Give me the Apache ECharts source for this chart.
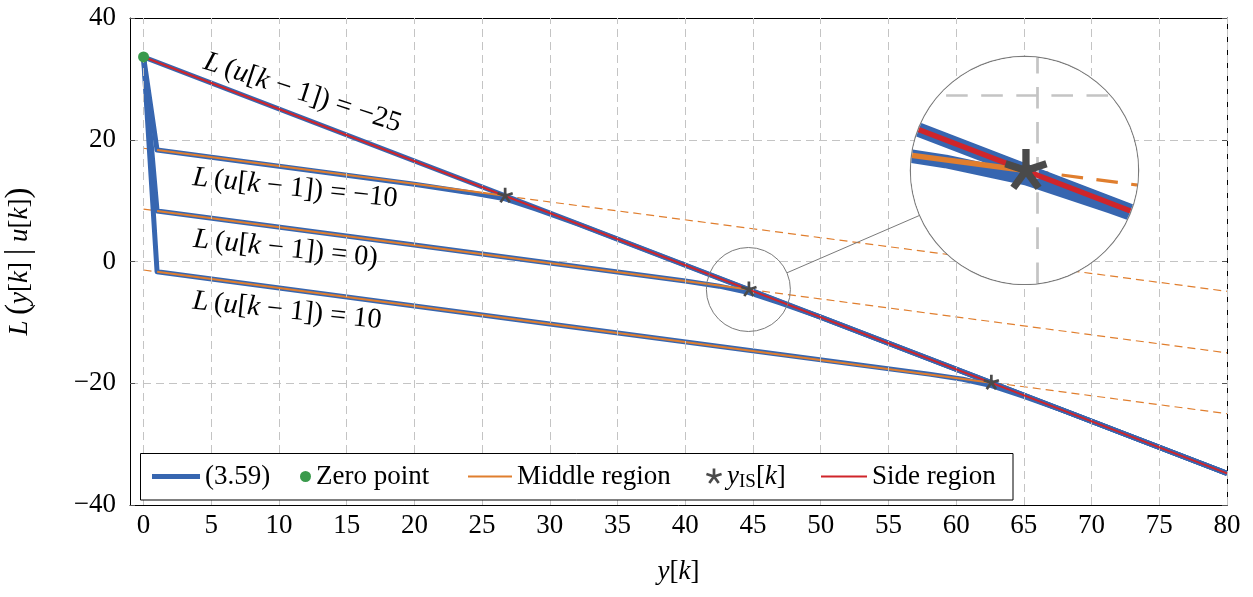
<!DOCTYPE html>
<html>
<head>
<meta charset="utf-8">
<script src="https://cdn.jsdelivr.net/npm/echarts@6/dist/echarts.min.js"></script>
<style>
  html, body { margin: 0; padding: 0; background: #fff; }
  #main { position: absolute; left: 0; top: 0; width: 1253px; height: 597px; }
  #lens { position: absolute; width: 227px; height: 227px; border-radius: 50%;
          overflow: hidden; background: #fff; box-shadow: 0 0 0 1.2px #7a7a7a; z-index: 5; }
</style>
</head>
<body>
<div id="main"></div>
<div id="lens"></div>
<script>
// ---- axis ticks ----
const xTicks = [0, 5, 10, 15, 20, 25, 30, 35, 40, 45, 50, 55, 60, 65, 70, 75, 80];
const yTicks = [-40, -20, 0, 20, 40];

// ---- data ----
const zeroPoint = [[0, 33.6]];
// previous input values, as printed next to each curve
const inputLabels = ['\u221225', '\u221210', '0)', '10'];

// (3.59): one curve per previous input
const curveUm25 = [[0, 33.6], [26.7, 10.8], [44.7, -4.6], [62.6, -19.9], [80, -34.8]];
const curveUm10 = [[0, 33.6], [1, 18.3], [10, 15.65], [20, 12.7], [24, 11.35], [26.7, 10.3], [29, 8.6], [32, 6.2], [80, -34.8]];
const curveU0   = [[0, 33.6], [1, 8.3], [20, 2.7], [40, -3.2], [42.5, -4.05], [44.7, -5.1], [47, -6.8], [50, -9.15], [80, -34.8]];
const curveU10  = [[0, 33.6], [1, -1.7], [30, -10.25], [58, -18.5], [60.5, -19.35], [62.6, -20.4], [65, -22.15], [68, -24.55], [80, -34.8]];

// middle-region linear pieces (solid part) and their continuations (dashed)
const middleUm10 = [[1, 18.3], [26.7, 10.8]];
const middleU0   = [[1, 8.3], [44.7, -4.6]];
const middleU10  = [[1, -1.7], [62.6, -19.9]];
const middleExtUm10 = [[0, 18.6], [80, -4.9]];
const middleExtU0   = [[0, 8.6], [80, -15.0]];
const middleExtU10  = [[0, -1.4], [80, -25.0]];

// side-region line
const sideRegion = [[0, 33.6], [80, -34.8]];

// intersection points y_IS[k]
const intersections = [[26.7, 10.8], [44.7, -4.6], [62.6, -19.9]];

// ---- styling / layout ----
const FONT = '"Liberation Serif", "Times New Roman", serif';
const FS = 27;
const LFS = 28.5;
const BLUE = '#3766b0', ORANGE = '#e07e2e', RED = '#d0252a', GREEN = '#3a9a4c', STAR = '#4a4a4a';
const GRIDC = '#c4c4c4';
const labelPlacement = [ // [x, y] of the baseline start, rotation in degrees
  { at: [4.3, 31.5], rot: 18 },
  { at: [3.56, 12.3], rot: 6 },
  { at: [3.63, 2.19], rot: 6 },
  { at: [3.56, -7.95], rot: 6 }
];
const lens = { centre: [44.66, -4.6], smallR: 42, bigR: 113.5, bigCentre: [1024.5, 170], factor: 2.7 };

const rich = {
  i: { fontFamily: FONT, fontSize: FS, fontStyle: 'italic', color: '#000' },
  n: { fontFamily: FONT, fontSize: FS, color: '#000' },
  p: { fontFamily: FONT, fontSize: 33, color: '#000' },
  s: { fontFamily: FONT, fontSize: 19, color: '#000', padding: [12, 0, 0, 0] }
};
const labelRich = {
  i: { fontFamily: FONT, fontSize: LFS, fontStyle: 'italic', color: '#000' },
  n: { fontFamily: FONT, fontSize: LFS, color: '#000' }
};

function asteriskPath() {
  const R = 10, w = 1.7;
  let d = '';
  for (let i = 0; i < 5; i++) {
    const a = (90 - 72 * i) * Math.PI / 180;
    const dx = Math.cos(a), dy = -Math.sin(a);
    const nx = -dy, ny = dx;
    const pts = [[-w * nx, -w * ny], [R * dx - w * nx, R * dy - w * ny], [R * dx + w * nx, R * dy + w * ny], [w * nx, w * ny]];
    d += 'M' + pts.map(p => p[0].toFixed(3) + ' ' + p[1].toFixed(3)).join('L') + 'Z';
  }
  d += 'M-0.01 10L0.01 10L0 9.99Z'; // keeps the box centred on the hub
  return 'path://' + d;
}
const ASTERISK = asteriskPath();

function buildSeries(k, gridLines) {
  const lineBase = { type: 'line', symbol: 'none', silent: true, animation: false };
  const series = [];
  series.push({
    type: 'line', data: [], silent: true, z: 1, animation: false,
    markLine: {
      silent: true, symbol: ['none', 'none'], label: { show: false }, animation: false,
      lineStyle: { color: GRIDC, width: k, type: [8 * k, 5 * k] },
      data: gridLines
    }
  });
  [middleExtUm10, middleExtU0, middleExtU10].forEach(d => series.push(Object.assign({}, lineBase, {
    name: 'middle continuation', data: d, z: 2,
    lineStyle: { color: ORANGE, width: 1.2 * k, type: [8 * k, 5 * k] }
  })));
  [curveUm25, curveUm10, curveU0, curveU10].forEach(d => series.push(Object.assign({}, lineBase, {
    name: '(3.59)', data: d, z: 3,
    lineStyle: { color: BLUE, width: 5 * k, join: 'round' }, itemStyle: { color: BLUE }
  })));
  [middleUm10, middleU0, middleU10].forEach(d => series.push(Object.assign({}, lineBase, {
    name: 'Middle region', data: d, z: 4,
    lineStyle: { color: ORANGE, width: 2 * k }, itemStyle: { color: ORANGE }
  })));
  series.push(Object.assign({}, lineBase, {
    name: 'Side region', data: sideRegion, z: 5,
    lineStyle: { color: RED, width: 2 * k }, itemStyle: { color: RED }
  }));
  series.push({
    type: 'scatter', name: 'yIS', data: intersections, z: 6, silent: true, animation: false,
    symbol: ASTERISK, symbolKeepAspect: true, symbolSize: 16 * k, itemStyle: { color: STAR, opacity: 1 }
  });
  series.push({
    type: 'scatter', name: 'Zero point', data: zeroPoint, z: 7, silent: true, animation: false,
    symbol: 'circle', symbolSize: 11 * k, itemStyle: { color: GREEN, opacity: 1 }
  });
  return series;
}

const fmtNum = v => (v < 0 ? '\u2212' + (-v) : String(v));

function legendAt(item, left, extra) {
  return Object.assign({
    data: [item], left: left, top: 461, orient: 'horizontal', padding: 0, itemGap: 0,
    selectedMode: false, z: 60,
    textStyle: { fontFamily: FONT, fontSize: FS, color: '#000', lineHeight: 31, rich: rich }
  }, extra);
}

const main = echarts.init(document.getElementById('main'), null, { renderer: 'canvas', width: 1253, height: 597 });

const axisCommon = {
  type: 'value',
  axisLine: { show: true, onZero: false, lineStyle: { color: '#000', width: 1 } },
  axisTick: { show: true, inside: true, length: 5, lineStyle: { color: '#555' } }
};

main.setOption({
  animation: false,
  backgroundColor: '#fff',
  grid: { left: 130, right: 26, top: 18, bottom: 92, containLabel: false, outerBoundsMode: 'none' },
  xAxis: [
    Object.assign({}, axisCommon, {
      position: 'bottom', min: -1, max: 80,
      axisTick: Object.assign({}, axisCommon.axisTick, { customValues: xTicks }),
      axisLabel: { customValues: xTicks, fontFamily: FONT, fontSize: FS, color: '#000', margin: 7, formatter: fmtNum },
      splitLine: { show: false },
      name: '{i|y}{n|[}{i|k}{n|]}', nameLocation: 'middle', nameGap: 53,
      nameTextStyle: { rich: rich }
    }),
    Object.assign({}, axisCommon, {
      position: 'top', min: -1, max: 80,
      axisTick: Object.assign({}, axisCommon.axisTick, { customValues: xTicks }),
      axisLabel: { show: false }, splitLine: { show: false }
    })
  ],
  yAxis: [
    Object.assign({}, axisCommon, {
      position: 'left', min: -40, max: 40, interval: 20,
      axisLabel: { fontFamily: FONT, fontSize: FS, color: '#000', margin: 14, formatter: fmtNum },
      splitLine: { show: true, lineStyle: { color: GRIDC, width: 1, type: [8, 5] } },
      name: '{i|L}{n|\u2009}{p|(}{i|y}{n|[}{i|k}{n|] }{p||}{n| }{i|u}{n|[}{i|k}{n|]}{p|)}',
      nameLocation: 'middle', nameRotate: 90, nameGap: 94,
      nameTextStyle: { rich: rich }
    }),
    Object.assign({}, axisCommon, {
      position: 'right', min: -40, max: 40, interval: 20,
      axisLabel: { show: false }, splitLine: { show: false }
    })
  ],
  legend: [
    legendAt({ name: '(3.59)', icon: 'rect' }, 152, { itemWidth: 48, itemHeight: 5 }),
    legendAt({ name: 'Zero point', icon: 'circle' }, 300, { itemWidth: 11, itemHeight: 11 }),
    legendAt({ name: 'Middle region', icon: 'rect' }, 468, { itemWidth: 44, itemHeight: 2 }),
    legendAt({ name: 'yIS' }, 706, { itemWidth: 16, itemHeight: 16, formatter: () => '{i|y}{s|IS}{n|[}{i|k}{n|]}' }),
    legendAt({ name: 'Side region', icon: 'rect' }, 821, { itemWidth: 46, itemHeight: 2 })
  ],
  series: buildSeries(1, xTicks.map(v => ({ xAxis: v })))
});

// ---- annotations: curve labels, legend frame, magnifier marks ----
const toPx = p => main.convertToPixel({ gridIndex: 0 }, p);
const graphics = [];
graphics.push({
  type: 'rect', z: 55, silent: true,
  shape: { x: 140.5, y: 453.5, width: 872.5, height: 46.5 },
  style: { fill: '#fff', stroke: '#000', lineWidth: 1 }
});
labelPlacement.forEach((pl, i) => {
  const p = toPx(pl.at);
  graphics.push({
    type: 'text', z: 20, silent: true, x: p[0], y: p[1], rotation: -pl.rot * Math.PI / 180,
    style: {
      x: 0, y: -9, align: 'left', verticalAlign: 'middle',
      text: '{i|L}{n|\u2009(}{i|u}{n|[}{i|k}{n| \u2212 1]) = ' + inputLabels[i] + '}',
      rich: labelRich, fontFamily: FONT, fontSize: LFS, fill: '#000'
    }
  });
});
const c0 = toPx(lens.centre);
const bc = lens.bigCentre;
const vx = bc[0] - c0[0], vy = bc[1] - c0[1], vl = Math.hypot(vx, vy);
const ux = vx / vl, uy = vy / vl;
graphics.push({
  type: 'circle', z: 30, silent: true,
  shape: { cx: c0[0], cy: c0[1], r: lens.smallR },
  style: { fill: 'none', stroke: '#7a7a7a', lineWidth: 1 }
});
graphics.push({
  type: 'line', z: 30, silent: true,
  shape: { x1: c0[0] + ux * lens.smallR, y1: c0[1] + uy * lens.smallR, x2: bc[0] - ux * lens.bigR, y2: bc[1] - uy * lens.bigR },
  style: { stroke: '#7a7a7a', lineWidth: 1 }
});
main.setOption({ graphic: graphics });

// ---- magnified view ----
const lensDiv = document.getElementById('lens');
const D = 2 * lens.bigR;
lensDiv.style.left = (bc[0] - lens.bigR) + 'px';
lensDiv.style.top = (bc[1] - lens.bigR) + 'px';
lensDiv.style.width = D + 'px';
lensDiv.style.height = D + 'px';
const p00 = toPx([0, 0]), p11 = toPx([1, 1]);
const sx = p11[0] - p00[0], sy = p00[1] - p11[1];
const hx = lens.bigR / (sx * lens.factor), hy = lens.bigR / (sy * lens.factor);
const xr = [lens.centre[0] - hx, lens.centre[0] + hx];
const yr = [lens.centre[1] - hy, lens.centre[1] + hy];
const zoomGrid = xTicks.filter(v => v > xr[0] && v < xr[1]).map(v => ({ xAxis: v }))
  .concat(yTicks.filter(v => v > yr[0] && v < yr[1]).map(v => ({ yAxis: v })));
const zoomChart = echarts.init(lensDiv, null, { renderer: 'canvas', width: D, height: D });
zoomChart.setOption({
  animation: false,
  backgroundColor: '#fff',
  grid: { left: 0, right: 0, top: 0, bottom: 0, containLabel: false, outerBoundsMode: 'none' },
  xAxis: { type: 'value', min: xr[0], max: xr[1], show: false },
  yAxis: { type: 'value', min: yr[0], max: yr[1], show: false },
  series: buildSeries(lens.factor, zoomGrid)
});
</script>
</body>
</html>
